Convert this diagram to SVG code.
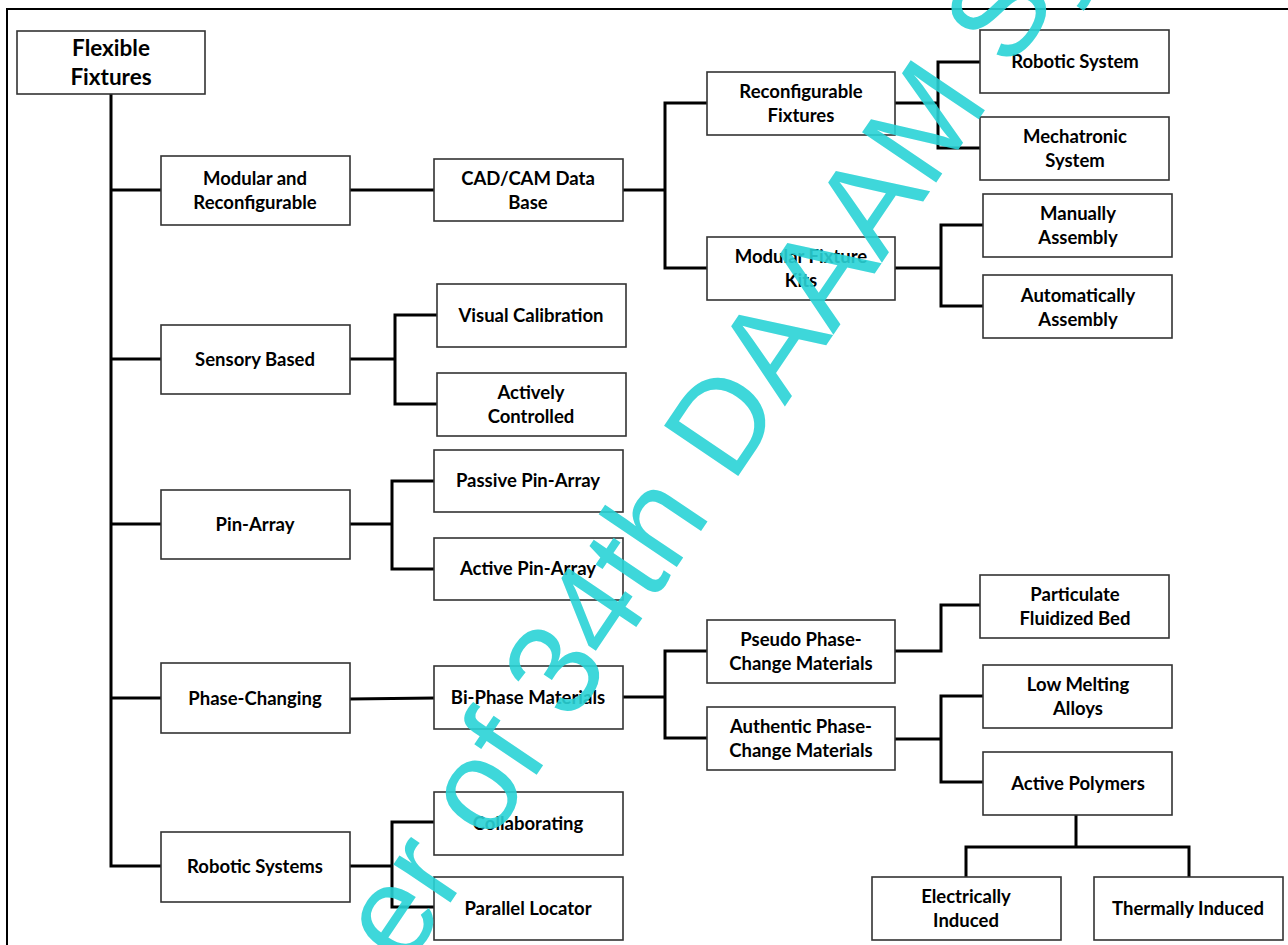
<svg xmlns="http://www.w3.org/2000/svg" width="1288" height="945" viewBox="0 0 1288 945">
<defs>
<style>
.box{fill:#fff;stroke:#333;stroke-width:1.6}
.t{font-family:Lato,"Liberation Sans",sans-serif;font-weight:700;font-size:18.5px;fill:#000;text-anchor:middle}
.big{font-size:22.5px}
.c{fill:none;stroke:#000;stroke-width:3;stroke-linecap:square;stroke-linejoin:miter}
.wm{font-family:"Liberation Sans",Arial,sans-serif;font-size:130px;fill:#2ad3d6;opacity:0.9}
</style>
</defs>
<rect width="1288" height="945" fill="#fff"/>
<path d="M7,945 V9 H1288" fill="none" stroke="#000" stroke-width="2"/>
<g id="connectors">
<path class="c" d="M111,94 V866 M111,190 H161 M111,359 H161 M111,524 H161 M111,698 H161 M111,866 H161"/>
<path class="c" d="M350,190 H434"/>
<path class="c" d="M623,190 H665 M665,103 V268 M665,103 H707 M665,268 H707"/>
<path class="c" d="M895,103 H938 M938,62 V148 M938,62 H980 M938,148 H980"/>
<path class="c" d="M895,268 H941 M941,225 V306 M941,225 H983 M941,306 H983"/>
<path class="c" d="M350,359 H395 M395,315 V404 M395,315 H437 M395,404 H437"/>
<path class="c" d="M350,524 H392 M392,481 V569 M392,481 H434 M392,569 H434"/>
<path class="c" d="M350,699 L434,698"/>
<path class="c" d="M623,697 H665 M665,651 V738 M665,651 H707 M665,738 H707"/>
<path class="c" d="M895,651 H941 M941,605 V651 M941,605 H980"/>
<path class="c" d="M895,739 H941 M941,696 V782 M941,696 H983 M941,782 H983"/>
<path class="c" d="M1076,815 V847 M966,847 H1189 M966,847 V877 M1189,847 V877"/>
<path class="c" d="M350,866 H392 M392,822 V907 M392,822 H434 M392,907 H434"/>
</g>
<g id="n-root"><rect class="box" x="17" y="31" width="188" height="63"/><text class="t big" x="111" y="56">Flexible</text><text class="t big" x="111" y="85">Fixtures</text></g>
<g id="n-modular"><rect class="box" x="161" y="156" width="189" height="69"/><text class="t" x="255" y="185">Modular and</text><text class="t" x="255" y="209">Reconfigurable</text></g>
<g id="n-cadcam"><rect class="box" x="434" y="159" width="189" height="62"/><text class="t" x="528" y="185">CAD/CAM Data</text><text class="t" x="528" y="209">Base</text></g>
<g id="n-reconf"><rect class="box" x="707" y="72" width="188" height="63"/><text class="t" x="801" y="98">Reconfigurable</text><text class="t" x="801" y="122">Fixtures</text></g>
<g id="n-mfk"><rect class="box" x="707" y="237" width="188" height="63"/><text class="t" x="801" y="263">Modular Fixture</text><text class="t" x="801" y="287">Kits</text></g>
<g id="n-robsys"><rect class="box" x="980" y="30" width="189" height="63"/><text class="t" x="1075" y="68">Robotic System</text></g>
<g id="n-mech"><rect class="box" x="980" y="117" width="189" height="63"/><text class="t" x="1075" y="143">Mechatronic</text><text class="t" x="1075" y="167">System</text></g>
<g id="n-manual"><rect class="box" x="983" y="194" width="189" height="63"/><text class="t" x="1078" y="220">Manually</text><text class="t" x="1078" y="244">Assembly</text></g>
<g id="n-auto"><rect class="box" x="983" y="275" width="189" height="63"/><text class="t" x="1078" y="302">Automatically</text><text class="t" x="1078" y="326">Assembly</text></g>
<g id="n-sensory"><rect class="box" x="161" y="325" width="189" height="69"/><text class="t" x="255" y="366">Sensory Based</text></g>
<g id="n-visual"><rect class="box" x="437" y="284" width="189" height="63"/><text class="t" x="531" y="322">Visual Calibration</text></g>
<g id="n-active"><rect class="box" x="437" y="373" width="189" height="63"/><text class="t" x="531" y="399">Actively</text><text class="t" x="531" y="423">Controlled</text></g>
<g id="n-pin"><rect class="box" x="161" y="490" width="189" height="69"/><text class="t" x="255" y="531">Pin-Array</text></g>
<g id="n-passive"><rect class="box" x="434" y="450" width="189" height="62"/><text class="t" x="528" y="487">Passive Pin-Array</text></g>
<g id="n-activepin"><rect class="box" x="434" y="538" width="189" height="62"/><text class="t" x="528" y="575">Active Pin-Array</text></g>
<g id="n-phase"><rect class="box" x="161" y="663" width="189" height="70"/><text class="t" x="255" y="705">Phase-Changing</text></g>
<g id="n-biphase"><rect class="box" x="434" y="666" width="189" height="63"/><text class="t" x="528" y="704">Bi-Phase Materials</text></g>
<g id="n-pseudo"><rect class="box" x="707" y="620" width="188" height="63"/><text class="t" x="801" y="646">Pseudo Phase-</text><text class="t" x="801" y="670">Change Materials</text></g>
<g id="n-authentic"><rect class="box" x="707" y="707" width="188" height="63"/><text class="t" x="801" y="733">Authentic Phase-</text><text class="t" x="801" y="757">Change Materials</text></g>
<g id="n-particulate"><rect class="box" x="980" y="575" width="189" height="63"/><text class="t" x="1075" y="601">Particulate</text><text class="t" x="1075" y="625">Fluidized Bed</text></g>
<g id="n-lowmelt"><rect class="box" x="983" y="665" width="189" height="63"/><text class="t" x="1078" y="691">Low Melting</text><text class="t" x="1078" y="715">Alloys</text></g>
<g id="n-polymers"><rect class="box" x="983" y="752" width="189" height="63"/><text class="t" x="1078" y="790">Active Polymers</text></g>
<g id="n-electric"><rect class="box" x="872" y="877" width="189" height="63"/><text class="t" x="966" y="903">Electrically</text><text class="t" x="966" y="927">Induced</text></g>
<g id="n-thermal"><rect class="box" x="1094" y="877" width="189" height="63"/><text class="t" x="1188" y="915">Thermally Induced</text></g>
<g id="n-robotic"><rect class="box" x="161" y="832" width="189" height="70"/><text class="t" x="255" y="873">Robotic Systems</text></g>
<g id="n-collab"><rect class="box" x="434" y="792" width="189" height="63"/><text class="t" x="528" y="830">Collaborating</text></g>
<g id="n-parallel"><rect class="box" x="434" y="877" width="189" height="63"/><text class="t" x="528" y="915">Parallel Locator</text></g>
<text class="wm" transform="translate(405,970) rotate(-56)">er of 34th DAAAM Sy</text>
</svg>
